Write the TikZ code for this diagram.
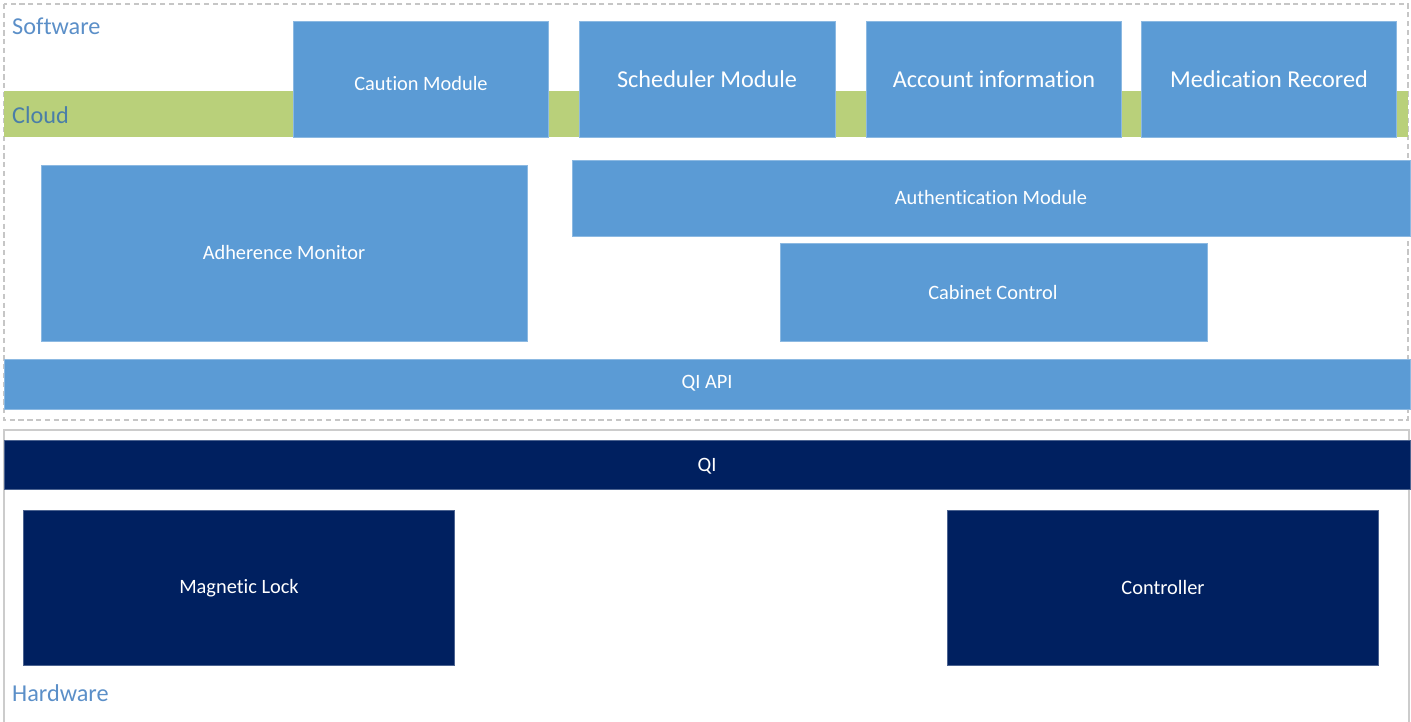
\documentclass[tikz,border=0pt]{standalone}
\usepackage{fontspec}
\setmainfont[Ligatures={NoCommon}]{Carlito}
\definecolor{swblue}{HTML}{5B9BD5}
\definecolor{hwnavy}{HTML}{002060}
\definecolor{cloudgreen}{HTML}{B9D07A}
\definecolor{labelblue}{HTML}{5B8FC8}
\definecolor{cloudtext}{HTML}{4A7EA8}
\tikzset{
  swbox/.style={fill=swblue,draw=swblue!70!white,line width=0.4pt},
  hwbox/.style={fill=hwnavy,draw=hwnavy!70!white,line width=0.4pt},
  boxtext/.style={text=white,font=\fontsize{11.6}{13}\selectfont},
  bigtext/.style={text=white,font=\fontsize{13.8}{16}\selectfont},
  layertext/.style={text=labelblue,font=\fontsize{13.8}{16}\selectfont,anchor=west}
}
\begin{document}
\begin{tikzpicture}[x=0.02cm,y=-0.02cm]
    \useasboundingbox (0,0) rectangle (1411,722);
    % software layer
    \draw[gray!45,dash pattern=on 3pt off 2pt,line width=0.7pt] (4,4) rectangle (1408,420);
    \node[layertext] (Software) at (6,26) {Software};
    \fill[cloudgreen] (4,91) rectangle (1408,137);
    \node[layertext,text=cloudtext] (Cloud) at (6,115) {Cloud};

    \filldraw[swbox] (293,21) rectangle (548,137);
    \node[boxtext] (Caution) at (421,84) {Caution Module};
    \filldraw[swbox] (579,21) rectangle (835,137);
    \node[bigtext] (Scheduler) at (707,79) {Scheduler Module};
    \filldraw[swbox] (866,21) rectangle (1121,137);
    \node[bigtext] (Account) at (994,79) {Account information};
    \filldraw[swbox] (1141,21) rectangle (1396,137);
    \node[bigtext] (Medication) at (1269,79) {Medication Recored};

    \filldraw[swbox] (41,165) rectangle (527,341);
    \node[boxtext] (Adherence) at (284,253) {Adherence Monitor};
    \filldraw[swbox] (572,160) rectangle (1410,236);
    \node[boxtext] (Auth) at (991,198) {Authentication Module};
    \filldraw[swbox] (780,243) rectangle (1207,341);
    \node[boxtext] (Cabinet) at (993,293) {Cabinet Control};

    \filldraw[swbox] (4,359) rectangle (1410,409);
    \node[boxtext] (QIAPI) at (707,383) {QI API};

    % hardware layer
    \draw[gray!40,line width=0.8pt] (4,722) -- (4,430) -- (1409,430) -- (1409,722);
    \filldraw[hwbox] (4,440) rectangle (1410,489);
    \node[boxtext] (QI) at (707,466) {QI};
    \filldraw[hwbox] (23,510) rectangle (454,665);
    \node[boxtext] (Lock) at (239,588) {Magnetic Lock};
    \filldraw[hwbox] (947,510) rectangle (1378,665);
    \node[boxtext] (Controller) at (1163,588) {Controller};
    \node[layertext] (Hardware) at (6,693) {Hardware};
\end{tikzpicture}
\end{document}
